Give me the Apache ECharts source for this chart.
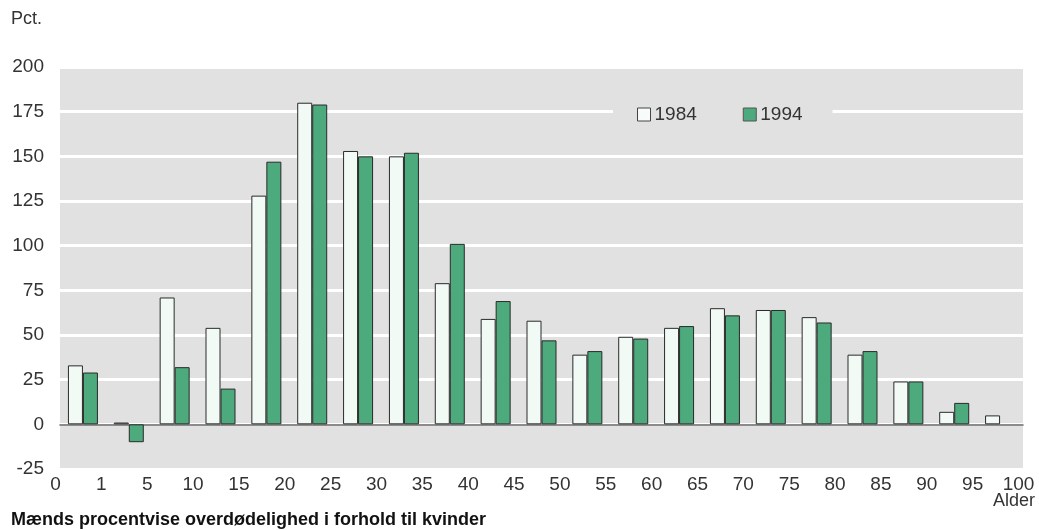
<!DOCTYPE html>
<html>
<head>
<meta charset="utf-8">
<script src="https://cdn.jsdelivr.net/npm/echarts@6/dist/echarts.min.js"></script>
<style>
html,body{margin:0;padding:0;background:#fff;}
#chart{width:1039px;height:530px;}
</style>
</head>
<body>
<div id="chart"></div>
<script>
// Age groups (bars) and boundary tick labels
const ageGroups = ['0','1-4','5-9','10-14','15-19','20-24','25-29','30-34','35-39','40-44','45-49','50-54','55-59','60-64','65-69','70-74','75-79','80-84','85-89','90-94','95-99'];
const tickLabels = ['0','1','5','10','15','20','25','30','35','40','45','50','55','60','65','70','75','80','85','90','95','100'];
const values1984 = [33, 1, 71, 54, 128, 180, 153, 150, 79, 59, 58, 39, 49, 54, 65, 64, 60, 39, 24, 7, 5];
const values1994 = [29, -10, 32, 20, 147, 179, 150, 152, 101, 69, 47, 41, 48, 55, 61, 64, 57, 41, 24, 12, null];
const yTicks = [-25, 200, 25];

const font = 'Liberation Sans';
const chart = echarts.init(document.getElementById('chart'));
chart.setOption({
  animation: false,
  backgroundColor: '#ffffff',
  grid: {
    left: 60, right: 16, top: 67, bottom: 61,
    show: true, backgroundColor: '#e1e1e1', borderWidth: 0
  },
  legend: {
    left: 613, top: 99,
    data: [
      {name: '1984', icon: 'rect', itemStyle: {color: '#f7fbf9', borderColor: '#444', borderWidth: 1}},
      {name: '1994', icon: 'rect', itemStyle: {color: '#4caa7c', borderColor: '#555', borderWidth: 1}}
    ],
    itemWidth: 13, itemHeight: 13, itemGap: 46,
    padding: [6, 30, 6, 24],
    backgroundColor: '#e1e1e1',
    textStyle: {fontFamily: font, fontSize: 19, color: '#333', padding: [0,0,0,-1]}
  },
  xAxis: [
    {
      type: 'category', data: ageGroups, boundaryGap: true,
      axisLine: {show: true, onZero: true, lineStyle: {color: '#666', width: 1.5}},
      axisTick: {show: false}, axisLabel: {show: false}, splitLine: {show: false}
    },
    {
      type: 'value', min: 0, max: 21, interval: 1, position: 'bottom',
      axisLine: {show: false}, axisTick: {show: false}, splitLine: {show: false},
      axisLabel: {
        show: true, margin: 6, fontFamily: font, fontSize: 19, color: '#333',
        padding: [0, 9, 0, 0],
        formatter: v => tickLabels[Math.round(v)] ?? ''
      }
    }
  ],
  yAxis: {
    type: 'value', min: yTicks[0], max: yTicks[1], interval: yTicks[2],
    axisLine: {show: false}, axisTick: {show: false},
    axisLabel: {fontFamily: font, fontSize: 19, color: '#333', margin: 16, verticalAlign: 'middle', padding: [0, 0, 8, 0]},
    splitLine: {show: true, lineStyle: {color: '#ffffff', width: 3}}
  },
  series: [
    {
      name: '1984', type: 'bar', xAxisIndex: 0, data: values1984,
      barWidth: 15, barGap: '0%',
      itemStyle: {color: '#f2faf6', borderColor: '#2a2a2a', borderWidth: 1}
    },
    {
      name: '1994', type: 'bar', xAxisIndex: 0, data: values1994,
      barWidth: 15, barGap: '0%',
      itemStyle: {color: '#4caa7c', borderColor: '#2a2a2a', borderWidth: 1}
    }
  ],
  graphic: [
    {type: 'text', left: 11, top: 10, style: {text: 'Pct.', fontFamily: font, fontSize: 18, fill: '#333'}},
    {type: 'text', right: 4, top: 492, style: {text: 'Alder', fontFamily: font, fontSize: 18, fill: '#333'}},
    {type: 'text', left: 11, top: 511, style: {text: 'Mænds procentvise overdødelighed i forhold til kvinder', fontFamily: font, fontWeight: 'bold', fontSize: 18, fill: '#111'}}
  ]
});
</script>
</body>
</html>
